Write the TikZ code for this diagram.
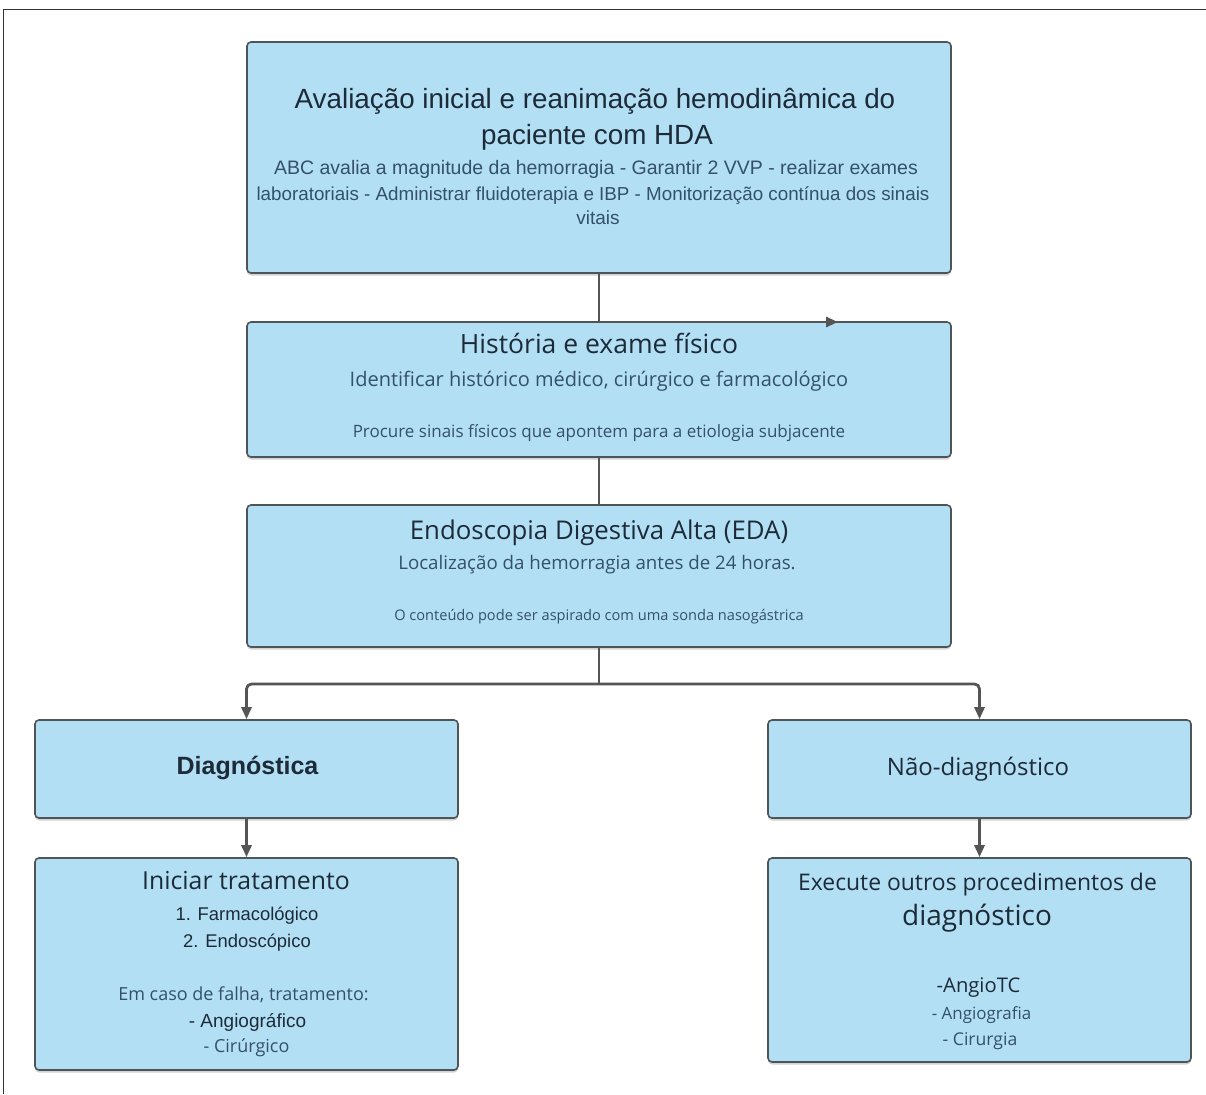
\documentclass[tikz,border=0pt]{standalone}
\usepackage{fontspec}
\setmainfont{Open Sans}
\newfontfamily\arialf{Liberation Sans}
\usetikzlibrary{arrows.meta,shadows}
\definecolor{boxfill}{HTML}{B2DFF4}
\definecolor{boxline}{HTML}{4F5458}
\definecolor{txtdark}{HTML}{1D2B38}
\definecolor{txtsoft}{HTML}{34506A}
\definecolor{connc}{HTML}{555555}
\tikzset{
  box/.style={draw=boxline, line width=1.6pt, fill=boxfill, rounded corners=4pt,
    drop shadow={shadow xshift=0pt, shadow yshift=-2.5pt, opacity=0.35}, inner sep=0pt},
  txt/.style={inner sep=0pt, anchor=mid, text=txtdark},
  soft/.style={inner sep=0pt, anchor=mid, text=txtsoft},
  conn/.style={draw=connc, line width=2.8pt},
  arr/.style={conn, -{Triangle[length=12pt,width=10pt]}},
}
\newcommand{\fs}[1]{\fontsize{#1}{#1}\selectfont}
\begin{document}
\begin{tikzpicture}[x=1pt,y=-1pt]
\useasboundingbox (0,0) rectangle (1206,1094);
\draw[line width=1.6pt, draw=black!80] (3.5,1094) -- (3.5,9.5) -- (1206,9.5);

\node[box, minimum width=704pt, minimum height=231pt] (b1) at (599,157.5) {};
\node[box, minimum width=704pt, minimum height=135pt] (b2) at (599,389.5) {};
\node[box, minimum width=704pt, minimum height=142pt] (b3) at (599,576) {};
\node[box, minimum width=423pt, minimum height=98pt] (b4) at (246.5,769) {};
\node[box, minimum width=423pt, minimum height=98pt] (b5) at (979.5,769) {};
\node[box, minimum width=423pt, minimum height=212pt] (b6) at (246.5,964) {};
\node[box, minimum width=423pt, minimum height=204pt] (b7) at (979.5,960) {};

% box 1 text
\node[txt, font=\arialf\fs{27.8}] (t1a) at (595,106) {Avaliação inicial e reanimação hemodinâmica do};
\node[txt, font=\arialf\fs{27.8}] (t1b) at (597,142) {paciente com HDA};
\node[soft, font=\arialf\fs{19.5}] (t1c) at (596,171.5) {ABC avalia a magnitude da hemorragia - Garantir 2 VVP - realizar exames};
\node[soft, font=\arialf\fs{18.8}] (t1d) at (593,197.5) {laboratoriais - Administrar fluidoterapia e IBP - Monitorização contínua dos sinais};
\node[soft, font=\arialf\fs{19}] (t1e) at (598,222) {vitais};

% box 2 text
\node[txt, font=\fs{26.5}] (t2a) at (599,350.5) {História e exame físico};
\node[soft, font=\fs{20}] (t2b) at (599,383.5) {Identificar histórico médico, cirúrgico e farmacológico};
\node[soft, font=\fs{17}] (t2c) at (599,435) {Procure sinais físicos que apontem para a etiologia subjacente};

% box 3 text
\node[txt, font=\fs{25.8}] (t3a) at (599,536.5) {Endoscopia Digestiva Alta (EDA)};
\node[soft, font=\fs{18.7}] (t3b) at (597,566.5) {Localização da hemorragia antes de 24 horas.};
\node[soft, font=\fs{14.6}] (t3c) at (599,618) {O conteúdo pode ser aspirado com uma sonda nasogástrica};

% box 4/5
\node[txt, font=\arialf\bfseries\fs{25}] (t4) at (247.5,772) {Diagnóstica};
\node[txt, font=\fs{24}] (t5) at (978,773) {Não-diagnóstico};

% box 6
\node[txt, font=\fs{24.8}] (t6a) at (246,887) {Iniciar tratamento};
\node[txt, font=\arialf\fs{18.4}] (t6b) at (247,918) {1. Farmacológico};
\node[txt, font=\arialf\fs{18.4}] (t6c) at (247,945) {2. Endoscópico};
\node[soft, font=\fs{18}] (t6d) at (243.5,998) {Em caso de falha, tratamento:};
\node[txt, font=\arialf\fs{19}] (t6e) at (247.5,1025) {- Angiográfico};
\node[soft, font=\fs{18}] (t6f) at (246.5,1050) {- Cirúrgico};

% box 7
\node[txt, font=\fs{22.9}] (t7a) at (977.5,888) {Execute outros procedimentos de};
\node[txt, font=\fs{28}] (t7b) at (977,923) {diagnóstico};
\node[txt, font=\fs{20.2}] (t7c) at (978.5,990) {-AngioTC};
\node[soft, font=\fs{16.9}] (t7d) at (981.5,1017) {- Angiografia};
\node[soft, font=\fs{17.6}] (t7e) at (980,1043) {- Cirurgia};

% connectors
\coordinate (a1) at (838,322);
\coordinate (br) at (599,684);
\draw[arr] (b1.south) |- (a1);
\draw[conn] (b2.south) -- (b3.north);
\draw[conn] (b3.south) -- (br);
\draw[arr, rounded corners=5pt] (br) -| (b4.north);
\draw[arr, rounded corners=5pt] (br) -| (b5.north);
\draw[arr] (b4.south) -- (b6.north);
\draw[arr] (b5.south) -- (b7.north);
\end{tikzpicture}
\end{document}
